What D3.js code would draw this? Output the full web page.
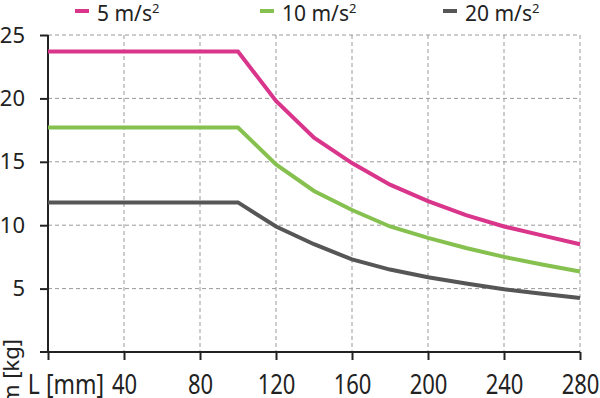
<!DOCTYPE html>
<meta charset="utf-8">
<style>
  body { margin: 0; background: #fff; }
  text { font-family: "Noto Sans", sans-serif; fill: #222; }
  .grid line { stroke: #9a9a9a; stroke-dasharray: 4,3; stroke-width: 1; }
</style>
<body>
<script src="https://d3js.org/d3.v7.min.js"></script>
<script>
  // x values (L in mm)
  var lengths = [0, 100, 120, 140, 160, 180, 200, 220, 240, 260, 280];
  // m [kg] for each acceleration
  var acc5 = [23.7, 23.7, 19.8, 16.9, 14.9, 13.2, 11.9, 10.8, 9.9, 9.2, 8.5];
  var acc10 = [17.7, 17.7, 14.8, 12.7, 11.2, 9.9, 9.0, 8.2, 7.5, 6.9, 6.35];
  var acc20 = [11.8, 11.8, 9.9, 8.5, 7.3, 6.5, 5.9, 5.4, 4.95, 4.6, 4.25];
  var seriesNames = ["5 m/s", "10 m/s", "20 m/s"];
  var seriesColors = ["#d9358b", "#86c150", "#565656"];
  var xTicks = [0, 40, 80, 120, 160, 200, 240, 280];
  var yTicks = [5, 10, 15, 20, 25];

  var width = 600, height = 398;

  var x = d3.scaleLinear().domain([0, 280]).range([48, 580]);
  var y = d3.scaleLinear().domain([0, 25]).range([352, 35]);

  var svg = d3.select("body").append("svg")
    .attr("width", width)
    .attr("height", height);

  // grid
  var grid = svg.append("g").attr("class", "grid");
  grid.selectAll(".hg")
    .data(yTicks)
    .enter().append("line")
    .attr("x1", x(0)).attr("x2", x(280))
    .attr("y1", d => y(d)).attr("y2", d => y(d));
  grid.selectAll(".vg")
    .data(xTicks.slice(1))
    .enter().append("line")
    .attr("x1", d => x(d)).attr("x2", d => x(d))
    .attr("y1", y(25)).attr("y2", y(0));

  // axes
  var yAxis = d3.axisLeft(y).tickValues(yTicks).tickSize(8).tickSizeOuter(0).tickPadding(15);
  var xAxis = d3.axisBottom(x).tickValues(xTicks).tickSize(8).tickSizeOuter(0)
    .tickFormat(d => d === 0 ? "" : d);

  var gy = svg.append("g").attr("transform", "translate(" + x(0) + ",0)").call(yAxis);
  var gx = svg.append("g").attr("transform", "translate(0," + y(0) + ")").call(xAxis);

  [gx, gy].forEach(function (g) {
    g.select(".domain").remove();
    g.selectAll(".tick line").attr("stroke", "#222").attr("stroke-width", 2);
    g.selectAll(".tick text").style("font-size", "22px").attr("fill", "#222");
  });
  // bottom labels are drawn taller than wide in the original
  gx.selectAll(".tick text")
    .attr("y", 0).attr("dy", 0)
    .attr("transform", "translate(0,42) scale(1,1.27)");

  svg.append("line")
    .attr("x1", x(0)).attr("x2", x(0))
    .attr("y1", y(25)).attr("y2", y(0))
    .attr("stroke", "#222").attr("stroke-width", 2);
  svg.append("line")
    .attr("x1", x(0) - 8).attr("x2", x(280))
    .attr("y1", y(0)).attr("y2", y(0))
    .attr("stroke", "#222").attr("stroke-width", 2);

  // axis labels
  svg.append("text")
    .attr("transform", "translate(104,394) scale(1,1.2)")
    .attr("text-anchor", "end")
    .style("font-size", "23px")
    .text("L [mm]");
  svg.append("text")
    .attr("transform", "translate(19,405) rotate(-90)")
    .style("font-size", "22px")
    .text("m [kg]");

  // lines
  var series = [acc5, acc10, acc20];
  var line = d3.line()
    .x((d, i) => x(lengths[i]))
    .y(d => y(d));

  svg.selectAll(".series")
    .data(series)
    .enter().append("path")
    .attr("class", "series")
    .attr("fill", "none")
    .attr("stroke", (d, i) => seriesColors[i])
    .attr("stroke-width", 4)
    .attr("d", line);

  // legend
  var legendX = [75, 260, 443];
  var lg = svg.selectAll(".legend")
    .data(seriesNames)
    .enter().append("g")
    .attr("class", "legend")
    .attr("transform", (d, i) => "translate(" + legendX[i] + ",0)");
  lg.append("line")
    .attr("x1", 0).attr("x2", 14)
    .attr("y1", 11).attr("y2", 11)
    .attr("stroke", (d, i) => seriesColors[i])
    .attr("stroke-width", 4);
  var lt = lg.append("text")
    .attr("x", 22).attr("y", 21)
    .style("font-size", "21px");
  lt.append("tspan").text(d => d);
  lt.append("tspan")
    .attr("dy", -8)
    .style("font-size", "13px")
    .text("2");
</script>
</body>
